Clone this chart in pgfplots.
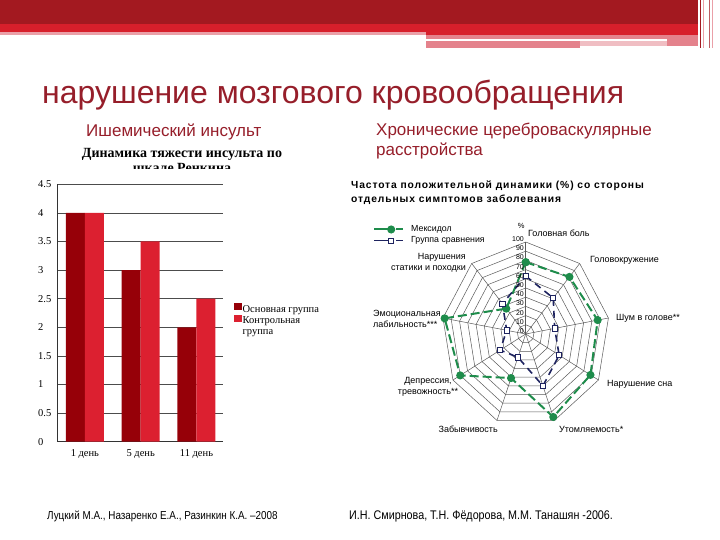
\documentclass[border=0pt]{standalone}
\usepackage{pgfplots}
\pgfplotsset{compat=1.18}
\usepackage{fontspec}
\setmainfont{Liberation Sans}
\newfontfamily\serif{Liberation Serif}
\newfontfamily\narrow[FakeStretch=0.86]{Liberation Sans}
\newfontfamily\spaced[LetterSpace=8.5]{Liberation Sans}
\definecolor{hdark}{RGB}{163,25,32}
\definecolor{hred}{RGB}{215,31,43}
\definecolor{hpink}{RGB}{234,160,168}
\definecolor{hpink2}{RGB}{228,130,140}
\definecolor{hpink3}{RGB}{240,190,195}
\definecolor{titlered}{RGB}{150,30,42}
\definecolor{barA}{RGB}{150,0,8}
\definecolor{barB}{RGB}{220,32,48}
\definecolor{mexgreen}{RGB}{30,140,75}
\definecolor{cmpblue}{RGB}{30,35,95}
\begin{document}
\begin{tikzpicture}[x=1pt,y=1pt]
\path[use as bounding box] (0,0) rectangle (720,540);
% header bands
\fill[hdark] (0,516) rectangle (698,540);
\fill[hred] (0,508.3) rectangle (698,516);
\fill[hpink] (0,505) rectangle (426,508.3);
\fill[hred] (426,505) rectangle (698,508.3);
\fill[hpink2] (426,501) rectangle (698,505);
\fill[hpink2] (426,491.7) rectangle (580,499.3);
\fill[hpink3] (580,494) rectangle (667,499.3);
\fill[hpink2] (667,494) rectangle (698,501);
\fill[hdark] (700,492) rectangle (701.2,540);
\fill[hpink] (703,492) rectangle (704,540);
\fill[hdark!70] (709,492) rectangle (710,540);
\fill[hpink] (711.7,492) rectangle (712.5,540);
% titles
\node[anchor=base west, inner sep=0pt, text=titlered, font=\fontsize{32}{36}\selectfont] at (42,436) {нарушение мозгового кровообращения};
\node[anchor=base west, inner sep=0pt, text=titlered, font=\fontsize{17}{20}\selectfont] at (86,403.3) {Ишемический инсульт};
\node[anchor=base west, inner sep=0pt, text=titlered, font=\fontsize{17}{20}\selectfont] at (376,404) {Хронические цереброваскулярные};
\node[anchor=base west, inner sep=0pt, text=titlered, font=\fontsize{17}{20}\selectfont] at (376,384) {расстройства};
% bar chart title (second line clipped as in the slide)
\node[anchor=base, inner sep=0pt, font=\serif\bfseries\fontsize{14}{16}\selectfont] at (182,382.5) {Динамика тяжести инсульта по};
\begin{scope}
\clip (0,371) rectangle (360,380);
\node[anchor=base, inner sep=0pt, font=\serif\bfseries\fontsize{14}{16}\selectfont] at (182,367) {шкале Ренкина};
\end{scope}
% bar chart
\begin{axis}[at={(57pt,98.3pt)}, anchor=south west, scale only axis,
  width=166pt, height=257.4pt,
  xmin=-0.5, xmax=2.475, ymin=0, ymax=4.5,
  ybar=0pt, bar width=19pt,
  xtick={0,1,2}, xticklabels={1 день,5 день,11 день},
  ytick={0,0.5,1,1.5,2,2.5,3,3.5,4,4.5},
  yticklabels={0,0.5,1,1.5,2,2.5,3,3.5,4,4.5},
  ymajorgrids, grid style={black!70, line width=0.5pt},
  axis x line=bottom, axis y line=left,
  axis line style={-, black!80, line width=0.6pt},
  major tick length=0pt,
  tick label style={font=\serif\fontsize{10.5}{12}\selectfont},
  yticklabel style={anchor=west, xshift=-19pt, inner sep=0pt},
  xticklabel style={yshift=-4pt},
  legend image code/.code={\fill[#1] (0pt,-1pt) rectangle (7.5pt,6.5pt);},
  legend style={at={(1.066,0.54)}, anchor=north west, draw=none, fill=none,
    inner sep=0pt, row sep=0pt,
    font=\serif\fontsize{10.5}{10.3}\selectfont,
    nodes={inner sep=1pt}},
  legend cell align=left,
]
\addplot[draw=none, fill=barA] coordinates {(0,4) (1,3) (2,2)};
\addlegendentry{Основная группа}
\addplot[draw=none, fill=barB] coordinates {(0,4) (1,3.5) (2,2.5)};
\addlegendentry{\vtop{\hbox{Контрольная}\hbox{группа}}}
\end{axis}
% radar chart title
\node[anchor=base west, inner sep=0pt, font=\spaced\bfseries\fontsize{10.3}{12}\selectfont] at (351,351) {Частота положительной динамики (\%) со стороны};
\node[anchor=base west, inner sep=0pt, font=\spaced\bfseries\fontsize{10.3}{12}\selectfont] at (351,337.7) {отдельных симптомов заболевания};
% radar chart
\begin{axis}[at={(525.7pt,206pt)}, anchor=center, scale only axis,
  width=168pt, height=184pt,
  xmin=-100, xmax=100, ymin=-100, ymax=100,
  hide axis, clip=false,
  legend style={at={(-0.409,1.095)}, anchor=north west, draw=none, fill=none,
    inner sep=0pt, row sep=1.5pt,
    font=\fontsize{8.8}{10}\selectfont, nodes={inner sep=1pt}},
  legend cell align=left,
  legend image code/.code={
    \draw[#1, solid] (0pt,0pt) -- (17pt,0pt);
    \draw[#1, solid] plot coordinates {(17pt,0pt)};
    \draw[#1, solid] (22pt,0pt) -- (29pt,0pt);
    \path (35pt,0pt);},
]
\pgfplotsinvokeforeach{10,20,30,40,50,60,70,80,90,100}{
  \addplot[black!65, line width=0.5pt, data cs=polar, forget plot] coordinates
    {(90,#1) (50,#1) (10,#1) (-30,#1) (-70,#1) (-110,#1) (-150,#1) (170,#1) (130,#1) (90,#1)};
}
\pgfplotsinvokeforeach{90,50,10,-30,-70,-110,-150,170,130}{
  \addplot[black!65, line width=0.5pt, data cs=polar, forget plot] coordinates {(#1,0) (#1,100)};
}
\addplot[mexgreen, line width=2pt, dash pattern=on 9pt off 4pt, mark=*, mark size=3pt,
  mark options={solid}, data cs=polar] coordinates
  {(90,78) (50,81) (10,87) (-30,89) (-70,96) (-110,51) (-150,90) (170,98) (130,36) (90,78)};
\addlegendentry{Мексидол}
\addplot[cmpblue, line width=1.6pt, dash pattern=on 7pt off 5pt, mark=square*, mark size=2.6pt,
  mark options={solid, fill=white, draw=cmpblue, line width=0.8pt}, data cs=polar] coordinates
  {(90,63) (50,51) (10,35) (-30,46) (-70,60) (-110,27) (-150,35) (170,23) (130,43) (90,63)};
\addlegendentry{Группа сравнения}
\end{axis}
% radial scale labels
\foreach \r in {0,10,...,100}
  \node[anchor=east, inner sep=0pt, font=\fontsize{7}{8}\selectfont] at (524,{206+0.92*\r+3}) {\r};
\node[inner sep=0pt, font=\fontsize{7.5}{8}\selectfont] at (521.3,314) {\%};
% category labels
\begin{scope}[every node/.style={inner sep=0pt, font=\fontsize{9}{10.8}\selectfont}]
\node[anchor=west] at (528,307) {Головная боль};
\node[anchor=west] at (590,280) {Головокружение};
\node[anchor=west] at (616,222) {Шум в голове**};
\node[anchor=west] at (607,156) {Нарушение сна};
\node[anchor=west] at (559,111) {Утомляемость*};
\node[anchor=east] at (498,111) {Забывчивость};
\node[align=center] at (428,153.5) {Депрессия,\\тревожность**};
\node[anchor=west, align=left] at (373,221) {Эмоциональная\\лабильность***};
\node[anchor=east, align=right] at (466,277) {Нарушения\\статики и походки};
\end{scope}
% footers
\node[anchor=base west, inner sep=0pt, font=\narrow\fontsize{11.5}{12}\selectfont] at (47,20.5) {Луцкий М.А., Назаренко Е.А., Разинкин К.А. –2008};
\node[anchor=base west, inner sep=0pt, font=\narrow\fontsize{12.5}{13}\selectfont] at (349,20.5) {И.Н. Смирнова, Т.Н. Фёдорова, М.М. Танашян -2006.};
\end{tikzpicture}
\end{document}
